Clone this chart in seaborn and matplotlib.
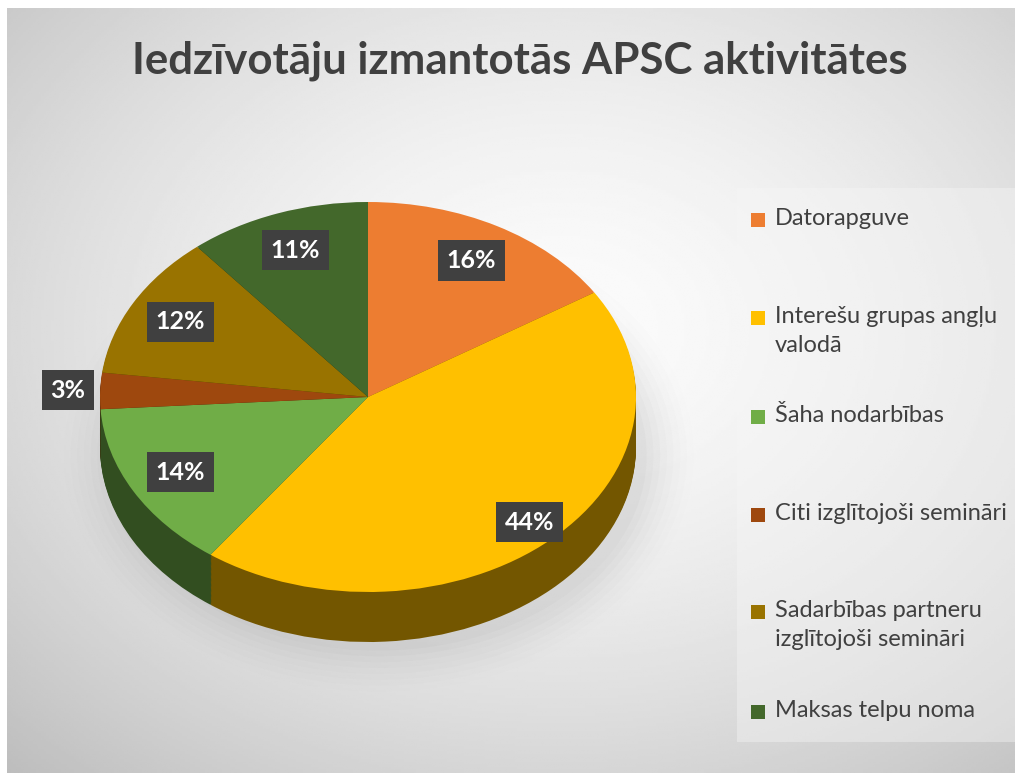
"""
Recreate: Iedzīvotāju izmantotās APSC aktivitātes (3D-style pie)
"""

import numpy as np
import matplotlib.pyplot as plt
import matplotlib.colors as mcolors
from matplotlib.patches import Rectangle, Ellipse
import seaborn as sns

# Data
categories = ['Datorapguve', 'Interešu grupas angļu valodā', 'Šaha nodarbības',
              'Citi izglītojoši semināri', 'Sadarbības partneru izglītojoši semināri',
              'Maksas telpu noma']
legend_labels = ['Datorapguve', 'Interešu grupas angļu\nvalodā', 'Šaha nodarbības',
                 'Citi izglītojoši semināri', 'Sadarbības partneru\nizglītojoši semināri',
                 'Maksas telpu noma']
shares = [16, 44, 14, 3, 12, 11]
colors = ['#ED7D31', '#FFC000', '#70AD47', '#9E480E', '#997300', '#43682B']
title = 'Iedzīvotāju izmantotās APSC aktivitātes'

sns.set_theme(style='white')
plt.rcParams['font.family'] = ['Lato', 'DejaVu Sans']

W, H = 1015, 773
fig = plt.figure(figsize=(W / 100, H / 100), dpi=100)
fig.patch.set_facecolor('white')

# Background radial gradient
bg = fig.add_axes([7 / W, 0, 1 - 7 / W, 1 - 8 / H])
yy, xx = np.mgrid[0:1:300j, 0:1:400j]
r = np.sqrt(((xx - 0.55) / 0.75) ** 2 + ((yy - 0.42) / 0.75) ** 2)
grad = 0.985 - 0.22 * np.clip(r, 0, 1.2) ** 1.6
bg.imshow(grad, cmap='gray', vmin=0, vmax=1, aspect='auto', extent=[0, 1, 0, 1])
bg.axis('off')

# Pie axes (ellipse: rx=268px, ry=195px, center at 368,397)
rx, ry, cx, cy = 268, 195, 368, 397
x0, x1, y0, y1 = -1.05, 1.05, -1.35, 1.05
left = (cx + x0 * rx) / W
bottom = 1 - (cy - y0 * ry) / H
ax = fig.add_axes([left, bottom, (x1 - x0) * rx / W, (y1 - y0) * ry / H])
ax.set_facecolor('none')

# soft shadow under the pie
for k, a in enumerate(np.linspace(0.035, 0.008, 8)):
    ax.add_patch(Ellipse((0.04, -0.30), 2.0 + k * 0.05, 2.0 + k * 0.06,
                         fc='#7a7a7a', ec='none', alpha=a, zorder=0, clip_on=False))

# side walls: stacked darker pies
depth = 50 / ry
side_colors = [tuple(np.array(mcolors.to_rgb(c)) * 0.45) for c in colors]
for off in np.linspace(-depth, -0.01, 40):
    ax.pie(shares, colors=side_colors, startangle=90, counterclock=False,
           center=(0, off), radius=1, wedgeprops=dict(linewidth=0), frame=True)

# top face
wedges, texts, autotexts = ax.pie(
    shares, colors=colors, startangle=90, counterclock=False, radius=1,
    autopct='%1.0f%%', pctdistance=0.8, frame=True,
    wedgeprops=dict(linewidth=0),
    textprops=dict(color='white', fontsize=18, fontweight='bold'))

for w, t, v in zip(wedges, autotexts, shares):
    ang = np.deg2rad((w.theta1 + w.theta2) / 2)
    if v < 5:
        t.set_position((1.12 * np.cos(ang), 1.12 * np.sin(ang)))
    elif v > 40:
        t.set_position((0.88 * np.cos(ang), 0.88 * np.sin(ang)))
    t.set_bbox(dict(boxstyle='square,pad=0.35', fc='#404040', ec='none'))
    t.set_zorder(10)

ax.set_aspect('auto')
ax.set_xlim(x0, x1)
ax.set_ylim(y0, y1)
ax.axis('off')

# Title
fig.text(0.512, 0.922, title, ha='center', va='center', fontsize=31.5,
         fontweight='bold', color='#404040')

# Legend (manual, fixed slots)
fig.patches.append(Rectangle((737 / W, 1 - 742 / H), 1 - 737 / W, (742 - 188) / H,
                             transform=fig.transFigure, fc='#f7f7f7', ec='none',
                             alpha=0.4, zorder=1))
slot_y = [220, 318, 417, 515, 612, 712]
for lab, col, yp in zip(legend_labels, colors, slot_y):
    fig.patches.append(Rectangle((751 / W, 1 - (yp + 7) / H), 14 / W, 14 / H,
                                 transform=fig.transFigure, fc=col, ec='none', zorder=2))
    fig.text(775 / W, 1 - (yp - 12) / H, lab, ha='left', va='top', fontsize=17,
             color='#404040', linespacing=1.45, zorder=3)

plt.savefig('out.png', dpi=100)
plt.close()
